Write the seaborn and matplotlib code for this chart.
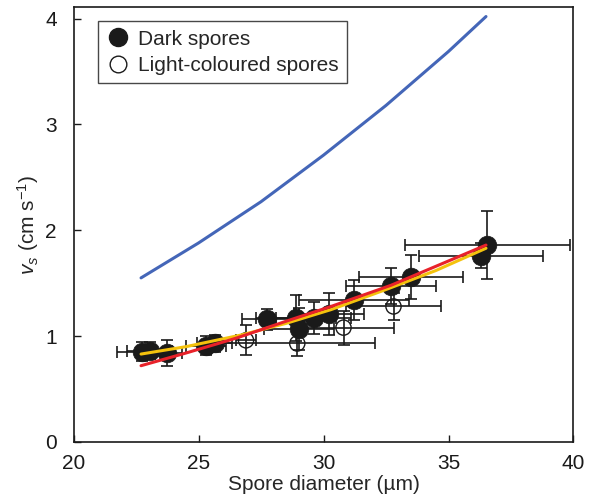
import numpy as np
import pandas as pd
import matplotlib
matplotlib.use("Agg")
import matplotlib.pyplot as plt
import seaborn as sns
from matplotlib.lines import Line2D

# Dark spores (mean diameter, settling velocity, error bars)
dark_x = [22.75, 23.05, 23.75, 25.3, 25.65, 27.75, 28.9, 29.0, 29.6, 30.2, 31.2, 32.7, 33.5, 36.3, 36.55]
dark_y = [0.85, 0.86, 0.84, 0.91, 0.93, 1.16, 1.17, 1.07, 1.17, 1.21, 1.34, 1.47, 1.56, 1.76, 1.86]
dark_xerr = [1.0, 0.9, 0.6, 0.8, 0.7, 1.0, 1.6, 1.4, 1.5, 1.4, 2.2, 1.8, 2.1, 2.5, 3.3]
dark_yerr = [0.09, 0.08, 0.12, 0.09, 0.08, 0.1, 0.22, 0.2, 0.15, 0.2, 0.19, 0.17, 0.21, 0.12, 0.32]

# Light-coloured spores
light_x = [26.9, 28.95, 30.8, 32.8]
light_y = [0.96, 0.93, 1.08, 1.28]
light_xerr = [0.4, 3.1, 2.0, 1.9]
light_yerr = [0.14, 0.12, 0.16, 0.13]

# Curves
blue_x = [22.7, 25.0, 27.5, 30.0, 32.5, 35.0, 36.5]
blue_y = [1.55, 1.88, 2.27, 2.71, 3.18, 3.69, 4.02]
yellow_x = [22.7, 24.5, 26.7, 28.5, 30.3, 32.5, 34.5, 36.5]
yellow_y = [0.83, 0.90, 1.01, 1.12, 1.25, 1.44, 1.62, 1.83]
red_x = [22.7, 24.5, 26.5, 28.5, 30.3, 32.7, 34.5, 36.5]
red_y = [0.72, 0.84, 0.98, 1.14, 1.28, 1.48, 1.66, 1.86]

sns.set_theme(style="ticks")
plt.rcParams['font.family'] = ['Liberation Sans', 'DejaVu Sans']
plt.rcParams['mathtext.fontset'] = 'custom'
plt.rcParams['mathtext.rm'] = 'Liberation Sans'
plt.rcParams['mathtext.it'] = 'Liberation Sans:italic'

dark = pd.DataFrame({"d": dark_x, "v": dark_y})
light = pd.DataFrame({"d": light_x, "v": light_y})
curves = pd.concat([
    pd.DataFrame({"d": blue_x, "v": blue_y, "fit": "blue"}),
    pd.DataFrame({"d": yellow_x, "v": yellow_y, "fit": "yellow"}),
    pd.DataFrame({"d": red_x, "v": red_y, "fit": "red"}),
])

fig = plt.figure(figsize=(5.98, 5.01), dpi=100)
ax = fig.add_axes([0.123, 0.118, 0.836, 0.868])

ax.errorbar(dark_x, dark_y, xerr=dark_xerr, yerr=dark_yerr, fmt="none",
            ecolor="#1a1a1a", elinewidth=1.2, capsize=4.5, capthick=1.2, zorder=2)
ax.errorbar(light_x, light_y, xerr=light_xerr, yerr=light_yerr, fmt="none",
            ecolor="#1a1a1a", elinewidth=1.2, capsize=4.5, capthick=1.2, zorder=2)

sns.scatterplot(data=light, x="d", y="v", ax=ax, s=120, facecolor="none",
                edgecolor="#1a1a1a", linewidth=1.0, zorder=3)
sns.scatterplot(data=dark, x="d", y="v", ax=ax, s=180, color="#1a1a1a",
                edgecolor="#1a1a1a", linewidth=0.5, zorder=3)

sns.lineplot(data=curves, x="d", y="v", hue="fit", ax=ax, legend=False,
             palette={"blue": "#4466b8", "yellow": "#f4c20d", "red": "#e8222a"},
             hue_order=["blue", "yellow", "red"], linewidth=2.2, zorder=4)

ax.set_xlim(20, 40)
ax.set_ylim(0, 4.11)
ax.set_xticks([20, 25, 30, 35, 40])
ax.set_yticks([0, 1, 2, 3, 4])
ax.tick_params(direction="in", length=5, width=1, labelsize=15, colors="#1a1a1a",
               top=False, right=False)
ax.tick_params(axis="x", pad=9)
ax.tick_params(axis="y", pad=12)
for sp in ax.spines.values():
    sp.set_linewidth(1.2)
    sp.set_color("#1a1a1a")

ax.set_xlabel("Spore diameter (µm)", fontsize=15, labelpad=1)
ax.set_ylabel(r"$v_s$ (cm s$^{-1}$)", fontsize=15, labelpad=3)

handles = [
    Line2D([], [], marker="o", linestyle="none", markersize=13, color="#1a1a1a"),
    Line2D([], [], marker="o", linestyle="none", markersize=12, markerfacecolor="white",
           markeredgecolor="#1a1a1a", markeredgewidth=1.0),
]
leg = ax.legend(handles, ["Dark spores", "Light-coloured spores"], loc="upper left",
                bbox_to_anchor=(0.048, 0.967), fontsize=15, frameon=True, fancybox=False,
                handletextpad=0.35, borderpad=0.4, labelspacing=0.35, handlelength=1.2,
                borderaxespad=0)
leg.get_frame().set_edgecolor("#1a1a1a")
leg.get_frame().set_linewidth(1.0)

fig.savefig("out.png", dpi=100)
